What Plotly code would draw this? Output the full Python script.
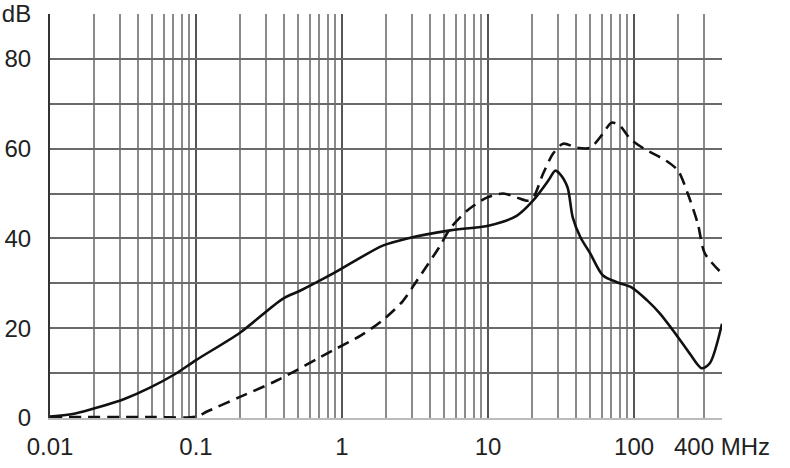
import numpy as np
import plotly.graph_objects as go

# Frequencies in MHz and attenuation in dB
freq_solid = [0.01, 0.0149, 0.022, 0.0326, 0.048, 0.072, 0.1, 0.2, 0.39, 0.52, 0.87,
              1.9, 2.8, 5.5, 10.2, 15.8, 20.3, 26, 28.8, 31, 35, 38, 43, 50, 61, 77,
              96, 123, 150, 200, 240, 290, 330, 400]
db_solid = [0.3, 1.0, 2.5, 4.3, 6.7, 9.8, 12.9, 19.0, 26.5, 28.4, 32.2,
            38.4, 40.0, 41.8, 42.9, 45.1, 48.4, 53.0, 55.1, 54.4, 51.4, 44.7, 40.2, 36.7, 31.8, 30.2,
            29.1, 26.2, 23.3, 18.0, 14.4, 11.1, 12.2, 21.0]

freq_dashed = [0.01, 0.05, 0.1, 0.12, 0.2, 0.36, 0.87, 1.35, 1.9, 2.6, 3.27, 4.7, 5.5, 7.2, 9.8,
               12.7, 15.8, 18.5, 20.3, 23.8, 27.9, 32.7, 40.7, 50, 61, 70, 80, 94,
               117, 166, 200, 233, 273, 305, 400]
db_dashed = [0.2, 0.2, 0.3, 1.5, 4.7, 8.4, 15.1, 18.4, 21.8, 26.0, 30.7, 38.4, 42.2, 46.2, 49.1,
             50.0, 49.1, 48.4, 49.0, 54.4, 58.9, 61.1, 60.2, 60.2, 63.3, 65.8, 65.1, 62.2,
             60.0, 57.3, 55.1, 50.0, 43.3, 36.7, 32.2]

x_tickvals = [0.01, 0.1, 1, 10, 100, 400]
x_ticktext = ["0.01", "0.1", "1", "10", "100", "400 MHz"]
y_tickvals = [0, 10, 20, 30, 40, 50, 60, 70, 80, 90]
y_ticktext = ["0", "", "20", "", "40", "", "60", "", "80", "dB"]

minor_x = [m * 10.0 ** d for d in range(-2, 3) for m in range(2, 10) if m * 10.0 ** d <= 400]

FONT = "Liberation Sans, Arial, sans-serif"

fig = go.Figure()
fig.add_trace(go.Scatter(x=freq_solid, y=db_solid, mode="lines",
                         line=dict(color="#111111", width=2.6, shape="spline", smoothing=0.8),
                         showlegend=False))
fig.add_trace(go.Scatter(x=freq_dashed, y=db_dashed, mode="lines",
                         line=dict(color="#111111", width=2.6, shape="spline", smoothing=0.8,
                                   dash="12px,7px"),
                         showlegend=False))

fig.update_layout(
    width=790, height=468,
    margin=dict(l=50, r=68, t=14, b=50),
    paper_bgcolor="white", plot_bgcolor="white",
    font=dict(family=FONT, size=24, color="#222222"),
    xaxis=dict(type="log", range=[np.log10(0.01), np.log10(400)],
               tickmode="array", tickvals=x_tickvals, ticktext=x_ticktext,
               showgrid=True, gridcolor="#555555", gridwidth=1.8,
               minor=dict(tickmode="array", tickvals=minor_x, showgrid=True,
                          gridcolor="#8a8a8a", gridwidth=1.6, ticks=""),
               ticks="", zeroline=False, showline=True, linecolor="#bbbbbb", linewidth=2,
               ticklabelstandoff=6, automargin=False),
    yaxis=dict(range=[0, 90], tickmode="array", tickvals=y_tickvals, ticktext=y_ticktext,
               showgrid=True, gridcolor="#6a6a6a", gridwidth=1.8,
               ticks="", zeroline=False, showline=True, linecolor="#333333", linewidth=2,
               ticklabelstandoff=12, automargin=False),
)

fig.write_html("out.html",
               config={"displayModeBar": False},
               post_script="document.body.style.margin='0';document.body.style.overflow='hidden';")
